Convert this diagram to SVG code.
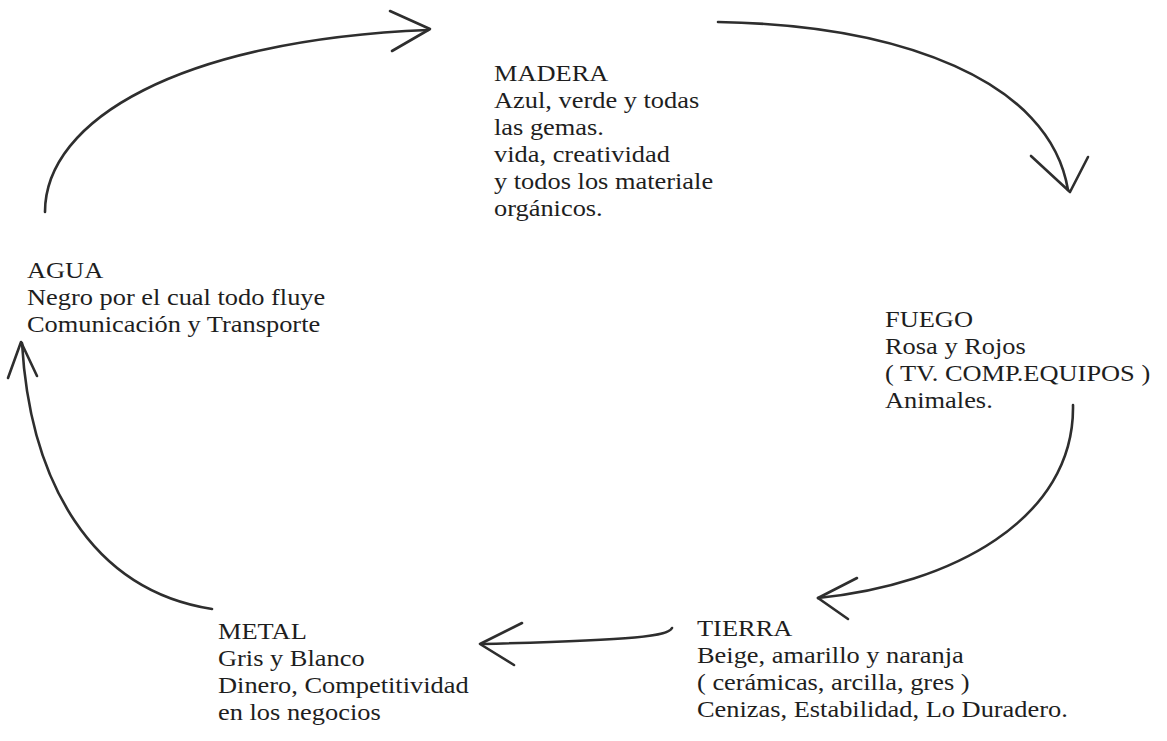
<svg xmlns="http://www.w3.org/2000/svg" width="1167" height="741" viewBox="0 0 1167 741">
<style>
text{font-family:"Liberation Serif","Times New Roman",serif;font-size:24px;fill:#1e1e1e}
.c{fill:none;stroke:#2e2e2e;stroke-width:2.6;stroke-linecap:round;stroke-linejoin:round}
</style>
<rect width="1167" height="741" fill="#fff"/>
<g id="connectors">
<path class="c" d="M45 212 C45 120 180 40 428 30"/>
<path class="c" d="M390 11 L430 29 L392 51"/>
<path class="c" d="M718 22 C900 25 1050 80 1068 190"/>
<path class="c" d="M1031 156 L1070 192 L1088 157"/>
<path class="c" d="M1073 405 C1075 520 950 585 818 598"/>
<path class="c" d="M857 578 L818 598 L848 619"/>
<path class="c" d="M672 628 C668 636 640 640 482 644"/>
<path class="c" d="M522 623 L480 644 L514 665"/>
<path class="c" d="M212 609 C90 590 30 480 22 343"/>
<path class="c" d="M8 378 L21 342 L37 376"/>
</g>
<g id="madera" transform="translate(494 0) scale(1.1 1)">
<text x="0" y="81">MADERA</text>
<text x="0" y="108">Azul, verde y todas</text>
<text x="0" y="135">las gemas.</text>
<text x="0" y="162">vida, creatividad</text>
<text x="0" y="189">y todos los materiale</text>
<text x="0" y="216">orgánicos.</text>
</g>
<g id="agua" transform="translate(27 0) scale(1.1 1)">
<text x="0" y="278">AGUA</text>
<text x="0" y="305">Negro por el cual todo fluye</text>
<text x="0" y="332">Comunicación y Transporte</text>
</g>
<g id="fuego" transform="translate(885 0) scale(1.1 1)">
<text x="0" y="327">FUEGO</text>
<text x="0" y="354">Rosa y Rojos</text>
<text x="0" y="381">( TV. COMP.EQUIPOS )</text>
<text x="0" y="408">Animales.</text>
</g>
<g id="metal" transform="translate(218 0) scale(1.1 1)">
<text x="0" y="639">METAL</text>
<text x="0" y="666">Gris y Blanco</text>
<text x="0" y="693">Dinero, Competitividad</text>
<text x="0" y="720">en los negocios</text>
</g>
<g id="tierra" transform="translate(697 0) scale(1.1 1)">
<text x="0" y="636">TIERRA</text>
<text x="0" y="663">Beige, amarillo y naranja</text>
<text x="0" y="690">( cerámicas, arcilla, gres )</text>
<text x="0" y="717">Cenizas, Estabilidad, Lo Duradero.</text>
</g>
</svg>
